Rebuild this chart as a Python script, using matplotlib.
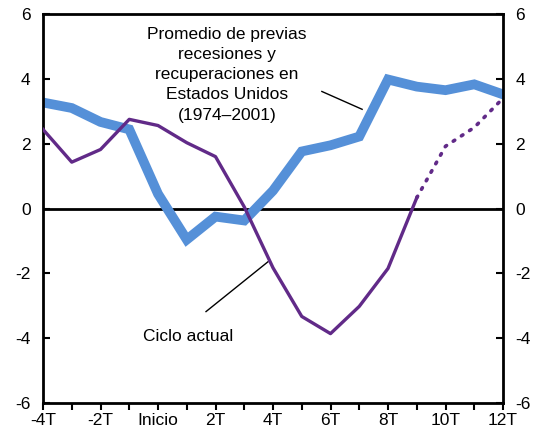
import numpy as np
import matplotlib
matplotlib.use('Agg')
import matplotlib.pyplot as plt
from matplotlib.ticker import MultipleLocator

plt.rcParams['font.family'] = ['Liberation Sans', 'DejaVu Sans']
plt.rcParams['axes.unicode_minus'] = False

quarters = list(range(-4, 13))
promedio = [3.27, 3.1, 2.67, 2.44, 0.45, -0.96, -0.25, -0.37, 0.55, 1.76, 1.95, 2.22, 3.98, 3.76, 3.65, 3.83, 3.52]
actual_q = list(range(-4, 10))
actual = [2.44, 1.43, 1.82, 2.75, 2.56, 2.03, 1.6, 0.05, -1.83, -3.33, -3.86, -3.02, -1.85, 0.33]
proy_q = [9, 10, 11, 12]
proy = [0.33, 1.92, 2.5, 3.4]
tick_pos = [-4, -2, 0, 2, 4, 6, 8, 10, 12]
tick_lab = ['-4T', '-2T', 'Inicio', '2T', '4T', '6T', '8T', '10T', '12T']

blue = '#5590D8'
purple = '#612A88'
fs = 12.5

fig = plt.figure(figsize=(5.42, 4.34), dpi=100)
ax = fig.add_axes([43/542, 1-403/434, 460/542, 389/434])

ax.axhline(0, color='black', lw=2, zorder=1)
ax.plot(quarters, promedio, color=blue, lw=7, solid_joinstyle='miter', zorder=2)
ax.plot(actual_q, actual, color=purple, lw=2.4, zorder=3)
ax.plot(proy_q, proy, color=purple, lw=2.6, linestyle=(0, (0.5, 2.2)), dash_capstyle='round', zorder=3)

ax.set_xlim(-4, 12)
ax.set_ylim(-6, 6)
ax.set_xticks(tick_pos)
ax.set_xticklabels(tick_lab)
ax.xaxis.set_minor_locator(MultipleLocator(1))
ax.set_yticks(range(-6, 7, 2))
ax.tick_params(axis='x', which='both', direction='out', length=5, width=1.5, labelsize=fs, pad=2)
ax.tick_params(axis='y', direction='in', length=5, width=1.5, labelsize=fs, left=True, right=True,
               labelleft=True, labelright=True, pad=9)
for s in ax.spines.values():
    s.set_linewidth(2)

ax.text(2.4, 4.12, 'Promedio de previas\nrecesiones y\nrecuperaciones en\nEstados Unidos\n(1974–2001)',
        ha='center', va='center', fontsize=fs, linespacing=1.42)
ax.plot([5.7, 7.1], [3.61, 3.06], color='black', lw=1)
ax.text(1.04, -3.95, 'Ciclo actual', ha='center', va='center', fontsize=fs)
ax.plot([1.67, 3.83], [-3.18, -1.64], color='black', lw=1)

fig.savefig('out.png', dpi=100)
